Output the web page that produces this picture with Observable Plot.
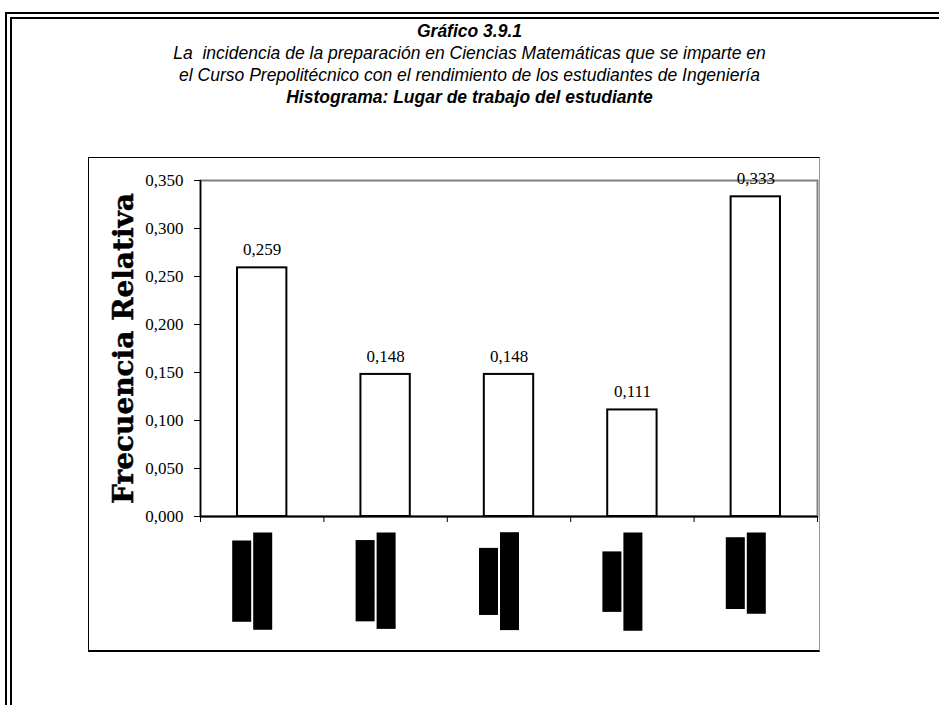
<!DOCTYPE html>
<html>
<head>
<meta charset="utf-8">
<script src="https://cdn.jsdelivr.net/npm/d3@7"></script>
<script src="https://cdn.jsdelivr.net/npm/@observablehq/plot@0.6"></script>
<style>
  html, body { margin: 0; padding: 0; background: #fff; width: 939px; height: 705px; overflow: hidden; position: relative; }
  #frame { position: absolute; left: 5px; top: 12px; right: -40px; bottom: -40px;
           border-left: 7px double #000; border-top: 7px double #000; }
  #titles { position: absolute; left: 0; top: 20px; width: 939px; text-align: center;
            font-family: "Liberation Sans", Arial, sans-serif; font-style: italic; font-size: 17.5px; line-height: 22px; color: #000; }
  #titles b { font-weight: bold; }
  #box { position: absolute; left: 88px; top: 157px; width: 730px; height: 492px;
         border-left: 1px solid #000; border-top: 1px solid #000; border-bottom: 2px solid #000; border-right: 1px solid #999; }
  #chart { position: absolute; left: 88px; top: 157px; }
</style>
</head>
<body>
<div id="frame"></div>
<div id="titles">
  <div><b>Gráfico 3.9.1</b></div>
  <div>La&nbsp; incidencia de la preparación en Ciencias Matemáticas que se imparte en</div>
  <div>el Curso Prepolitécnico con el rendimiento de los estudiantes de Ingeniería</div>
  <div><b>Histograma: Lugar de trabajo del estudiante</b></div>
</div>
<div id="box"></div>
<div id="chart"></div>
<script>
// ---- data ----
const labelLine1 = ["Empresas", "Empresas", "Negocio", "Trabajo", "Otro tipo"];
const labelLine2 = ["de gobierno", "particulares", "de la familia", "en el campo", "de trabajo"];
const values = [0.259, 0.148, 0.148, 0.111, 0.333];
const yTicks = [0, 0.05, 0.10, 0.15, 0.20, 0.25, 0.30, 0.35];
const yLabel = "Frecuencia Relativa";

const rows = values.map((v, i) => ({i, v, l1: labelLine1[i], l2: labelLine2[i]}));
const boundaries = d3.range(values.length + 1);
const fmt = d => d.toFixed(3).replace(".", ",");
const serif = "'Liberation Serif', 'Times New Roman', serif";
const sans = "'Liberation Sans', Arial, sans-serif";

const W = 731, H = 494;
const plot = Plot.plot({
  width: W, height: H,
  marginLeft: 112, marginRight: 2, marginTop: 23, marginBottom: H - 359,
  x: {domain: [0, values.length], axis: null},
  y: {domain: [0, 0.35], axis: null},
  style: {background: "transparent", overflow: "visible"},
  marks: [
    Plot.frame({stroke: "#808080", strokeWidth: 2}),
    Plot.rectY(rows, {x1: d => d.i + 0.3, x2: d => d.i + 0.7, y: "v", fill: "white", stroke: "black", strokeWidth: 2}),
    Plot.ruleX([0], {stroke: "black", strokeWidth: 1.5}),
    Plot.ruleY([0], {stroke: "black", strokeWidth: 2}),
    Plot.axisY({ticks: yTicks, tickSize: 6, tickPadding: 11, tickFormat: fmt, fontSize: 17, fontFamily: serif, label: null, stroke: "black", fill: "black"}),
    Plot.axisX({ticks: boundaries, tickSize: 6, tickFormat: () => "", label: null, stroke: "black"}),
    Plot.text(rows, {x: d => d.i + 0.5, y: "v", text: d => fmt(d.v), dy: -18, fontSize: 17, fontFamily: serif, fill: "black"}),
    Plot.text([yLabel], {frameAnchor: "left", textAnchor: "middle", dx: -76, rotate: -90, fontSize: 28, fontWeight: "bold",
      fontFamily: "'DejaVu Serif', serif", fill: "black", stroke: "black", strokeWidth: 0.5}),
    Plot.text(rows, {x: d => d.i + 0.5, frameAnchor: "bottom", textAnchor: "middle", text: "l1", rotate: -90, dy: 64, dx: -15,
      fontSize: 17, fontWeight: "bold", fontFamily: sans, fill: "black"}),
    Plot.text(rows, {x: d => d.i + 0.5, frameAnchor: "bottom", textAnchor: "middle", text: "l2", rotate: -90, dy: 64, dx: 6,
      fontSize: 17, fontWeight: "bold", fontFamily: sans, fill: "black"})
  ]
});
document.getElementById("chart").append(plot);

// post-process: the label block hangs from the axis by its longer (second) line,
// both lines centred on each other, each line drawn as a solid black box
const ns = "http://www.w3.org/2000/svg";
const texts = Array.from(plot.querySelectorAll("text"));
const used = new Set();
const pick = s => { const t = texts.find(t => t.textContent === s && !used.has(t)); if (t) used.add(t); return t; };
const gap = 16; // px between axis and the top of the label block
const pairs = rows.map(r => [pick(r.l1), null]);
rows.forEach((r, k) => { pairs[k][1] = pick(r.l2); });
pairs.forEach(([t1, t2]) => {
  const len = Math.max(t2 ? t2.getBBox().width : 0, t1 ? t1.getBBox().width : 0);
  const shift = gap + len / 2 - 64;
  [t1, t2].forEach(t => {
    if (!t) return;
    const tr = `translate(0,${shift}) ` + (t.getAttribute("transform") || "");
    t.setAttribute("transform", tr);
    const b = t.getBBox();
    const rect = document.createElementNS(ns, "rect");
    rect.setAttribute("x", b.x);
    rect.setAttribute("y", b.y);
    rect.setAttribute("width", b.width);
    rect.setAttribute("height", b.height);
    rect.setAttribute("fill", "black");
    rect.setAttribute("transform", tr);
    t.parentNode.insertBefore(rect, t);
  });
});
</script>
</body>
</html>
